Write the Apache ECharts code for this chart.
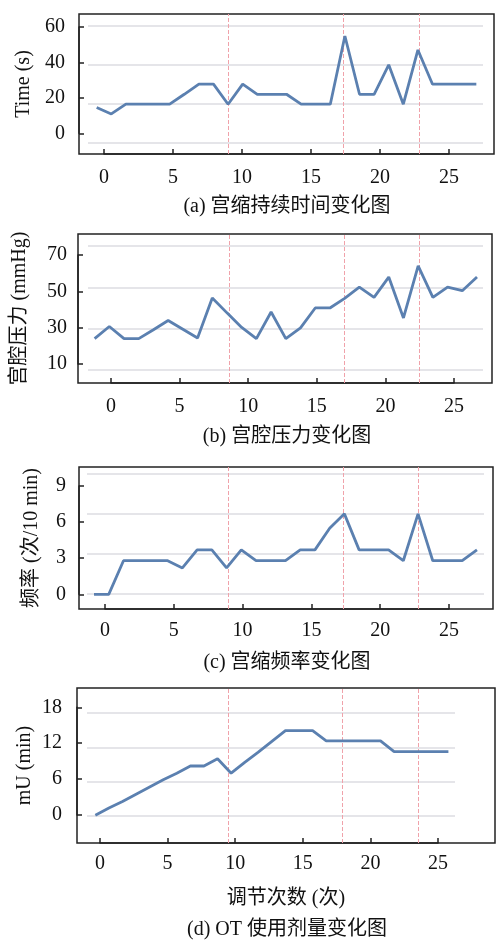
<!DOCTYPE html>
<html>
<head>
<meta charset="utf-8">
<script src="https://cdn.jsdelivr.net/npm/echarts@6/dist/echarts.min.js"></script>
<style>html,body{margin:0;padding:0;background:#fff}#c{width:496px;height:940px}</style>
</head>
<body>
<div id="c"></div>
<script>
// ---------- data ----------
const xTickRange = [0, 25, 5];          // adjustment-number tick labels: 0,5,...,25
const durationTicks = [0, 60, 20];      // min, max, step of printed tick labels
const pressureTicks = [10, 70, 20];
const frequencyTicks = [0, 9, 3];
const doseTicks = [0, 18, 6];

const durationValues = [14.5, 10.9, 16.4, 16.4, 16.4, 16.4, 22.0, 27.7, 27.7, 16.4, 27.7, 22.0, 22.0, 22.0, 16.4, 16.4, 16.4, 54.9, 22.0, 22.0, 38.6, 16.4, 47.0, 27.7, 27.7, 27.7, 27.7];
const pressureValues = [23.8, 30.5, 23.8, 23.8, 28.7, 33.8, 29.0, 24.2, 46.2, 38.0, 30.0, 23.8, 38.5, 23.8, 29.7, 40.7, 40.7, 46.0, 52.2, 46.5, 57.7, 35.2, 63.9, 46.5, 52.2, 50.2, 57.7];
const frequencyValues = [0, 0, 2.8, 2.8, 2.8, 2.8, 2.2, 3.7, 3.7, 2.2, 3.7, 2.8, 2.8, 2.8, 3.7, 3.7, 5.5, 6.7, 3.7, 3.7, 3.7, 2.8, 6.7, 2.8, 2.8, 2.8, 3.7];
const doseValues = [0, 1.2, 2.3, 3.5, 4.7, 5.9, 7.0, 8.2, 8.2, 9.4, 7.0, 8.8, 10.5, 12.3, 14.1, 14.1, 14.1, 12.4, 12.4, 12.4, 12.4, 12.4, 10.6, 10.6, 10.6, 10.6, 10.6];

// phase boundaries (in adjustment-index units) per panel
const durationPhases = [9.03, 16.92, 22.1];
const pressurePhases = [9.16, 17.0, 22.1];
const frequencyPhases = [9.12, 16.9, 22.0];
const dosePhases = [9.79, 18.2, 23.77];

const yNames = ['Time (s)', '宫腔压力 (mmHg)', '频率 (次/10 min)', 'mU (min)'];
const captions = ['(a) 宫缩持续时间变化图', '(b) 宫腔压力变化图', '(c) 宫缩频率变化图', '(d) OT 使用剂量变化图'];
const xName = '调节次数 (次)';

// ---------- layout / style ----------
const FONT = "'Liberation Serif', 'Times New Roman', 'Noto Sans CJK SC', serif";
const LINE = '#5b80b0';
const panels = [
  { values: durationValues, ticks: durationTicks, phases: durationPhases,
    grid: { left: 79, top: 14, width: 415, height: 140 }, ir: [-1.21, 27.21], yr: [-11.7, 67.3],
    xt: { left: 104, width: 345 }, yt: { top: 27, height: 106.3 },
    gl: { left: 88, width: 395, top: 26, height: 117 }, nameGap: 45, xm: 14, ym: 14, cap: 207 },
  { values: pressureValues, ticks: pressureTicks, phases: pressurePhases,
    grid: { left: 78, top: 234, width: 414, height: 149 }, ir: [-1.13, 27.02], yr: [-0.6, 81.4],
    xt: { left: 111, width: 343 }, yt: { top: 255, height: 109 },
    gl: { left: 88, width: 395, top: 246, height: 124 }, nameGap: 48, xm: 14, ym: 11, cap: 437 },
  { values: frequencyValues, ticks: frequencyTicks, phases: frequencyPhases,
    grid: { left: 79, top: 467, width: 414, height: 142 }, ir: [-1.02, 27.09], yr: [-1.22, 10.6],
    xt: { left: 105, width: 344 }, yt: { top: 486, height: 108.3 },
    gl: { left: 87, width: 397, top: 474, height: 120 }, nameGap: 37, xm: 12, ym: 13, cap: 663 },
  { values: doseValues, ticks: doseTicks, phases: dosePhases,
    grid: { left: 77, top: 688, width: 418, height: 155 }, ir: [-1.35, 29.43], yr: [-4.63, 21.2],
    xt: { left: 100, width: 338 }, yt: { top: 707.3, height: 107.7 },
    gl: { left: 87, width: 368, top: 713, height: 103 }, nameGap: 42, xm: 11, ym: 15, cap: 930 }
];

const tickStyle = { show: true, inside: true, length: 5, lineStyle: { color: '#222', width: 1.5 } };
const labelStyle = (m) => ({ show: true, margin: m, fontFamily: FONT, fontSize: 20, color: '#111' });
const nameStyle = { fontFamily: FONT, fontSize: 20, color: '#111' };
const hiddenAxis = (g, extra) => Object.assign({ gridIndex: g, type: 'value', show: false }, extra || {});

const grids = [], xAxes = [], yAxes = [], series = [], graphics = [];
panels.forEach((p, k) => {
  const G = p.grid;
  // main grid: box, data axes, axis names
  const gMain = grids.length;
  grids.push(Object.assign({ show: true, borderColor: '#222', borderWidth: 1.5, backgroundColor: 'transparent' }, G));
  xAxes.push({
    gridIndex: gMain, type: 'value', min: p.ir[0], max: p.ir[1], position: 'bottom',
    axisLine: { show: false, onZero: false }, axisTick: { show: false }, axisLabel: { show: false }, splitLine: { show: false },
    name: k === 3 ? xName : '', nameLocation: 'middle', nameGap: 46, nameTextStyle: nameStyle
  });
  const xIdx = xAxes.length - 1;
  yAxes.push({
    gridIndex: gMain, type: 'value', min: p.yr[0], max: p.yr[1], position: 'left',
    axisLine: { show: false, onZero: false }, axisTick: { show: false }, axisLabel: { show: false }, splitLine: { show: false },
    name: yNames[k], nameLocation: 'middle', nameGap: p.nameGap, nameTextStyle: nameStyle
  });
  const yMain = yAxes.length - 1;

  // x tick/label grid (spans tick 0 .. tick 25 along the box bottom)
  const gX = grids.length;
  grids.push({ show: false, left: p.xt.left, width: p.xt.width, top: G.top, height: G.height });
  xAxes.push({
    gridIndex: gX, type: 'value', min: xTickRange[0], max: xTickRange[1], interval: xTickRange[2], position: 'bottom',
    axisLine: { show: true, lineStyle: { color: '#222', width: 1.5 } }, axisTick: tickStyle, axisLabel: labelStyle(p.xm), splitLine: { show: false }
  });
  yAxes.push(hiddenAxis(gX, { min: 0, max: 1 }));

  // y tick/label grid (spans lowest .. highest printed tick along the box left)
  const gY = grids.length;
  grids.push({ show: false, left: G.left, width: G.width, top: p.yt.top, height: p.yt.height });
  xAxes.push(hiddenAxis(gY, { min: 0, max: 1 }));
  yAxes.push({
    gridIndex: gY, type: 'value', min: p.ticks[0], max: p.ticks[1], interval: p.ticks[2], position: 'left',
    axisLine: { show: true, lineStyle: { color: '#222', width: 1.5 } }, axisTick: tickStyle, axisLabel: labelStyle(p.ym), splitLine: { show: false }
  });

  // decorative gridline grid
  const gLine = grids.length;
  grids.push(Object.assign({ show: false }, p.gl));
  xAxes.push(hiddenAxis(gLine, { min: 0, max: 1 }));
  yAxes.push({
    gridIndex: gLine, type: 'value', min: 0, max: 3, interval: 1,
    axisLine: { show: false }, axisTick: { show: false }, axisLabel: { show: false },
    splitLine: { show: true, lineStyle: { color: '#dcdce2', width: 1.5 } }
  });

  series.push({
    type: 'line', xAxisIndex: xIdx, yAxisIndex: yMain,
    data: p.values.map((v, i) => [i, v]),
    symbol: 'none', lineStyle: { color: LINE, width: 2.8 }, z: 5,
    markLine: {
      silent: true, symbol: ['none', 'none'], label: { show: false },
      lineStyle: { color: '#f0a2aa', type: 'dashed', width: 1 },
      data: p.phases.map(v => ({ xAxis: v }))
    }
  });

  graphics.push({
    type: 'text', x: 287, y: p.cap,
    style: { text: captions[k], font: '20px ' + FONT, fill: '#111', textAlign: 'center', textVerticalAlign: 'middle' }
  });
});

const chart = echarts.init(document.getElementById('c'), null, { renderer: 'canvas' });
chart.setOption({
  animation: false,
  backgroundColor: '#fff',
  grid: grids, xAxis: xAxes, yAxis: yAxes, series: series, graphic: graphics
});
</script>
</body>
</html>
